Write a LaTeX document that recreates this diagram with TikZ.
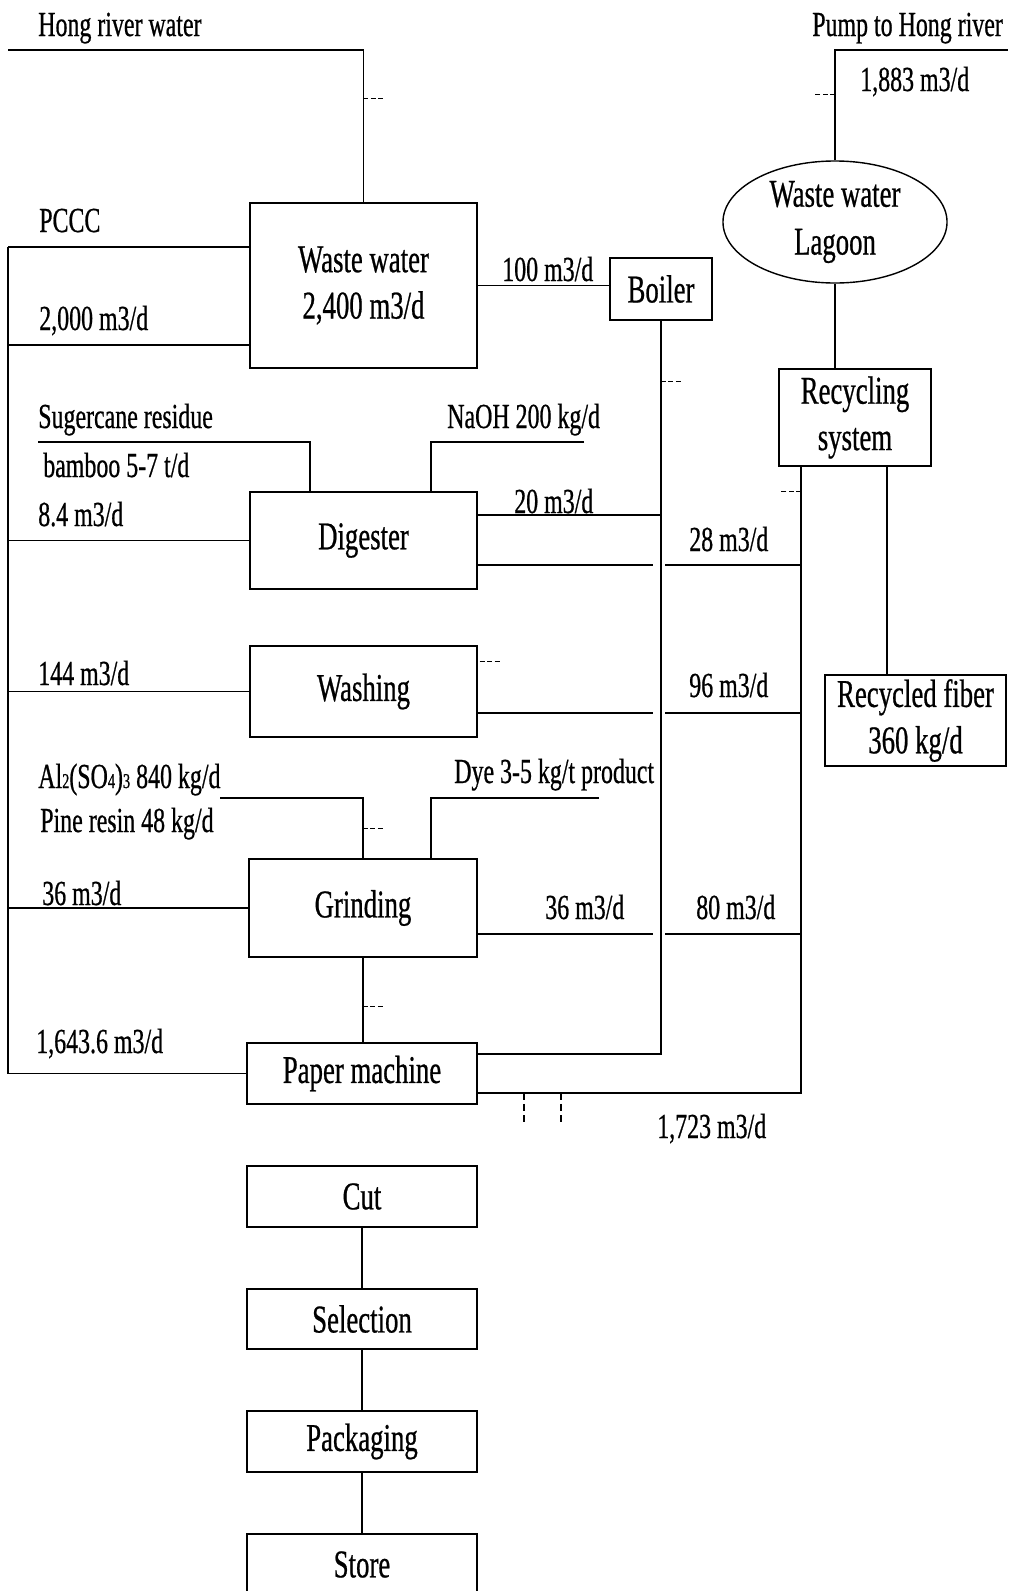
\documentclass[tikz,border=0pt]{standalone}
\usepackage{fontspec}
\setmainfont{Liberation Serif}[FakeStretch=0.68, FakeBold=0.6]
\usepackage{tikz}
\usetikzlibrary{shapes.geometric, calc}
\newcommand{\chemsub}[1]{{\fontsize{15}{15}\selectfont #1}}
\tikzset{
  procbox/.style={rectangle, draw, line width=1pt, inner sep=0pt,
    minimum width=5.675cm, align=center, font=\fontsize{28}{33}\selectfont},
  smallbox/.style={procbox, minimum width=2.55cm, minimum height=1.55cm},
  pondshape/.style={ellipse, draw, line width=1pt, inner sep=0pt,
    minimum width=5.6cm, minimum height=3.05cm, align=center,
    font=\fontsize{28}{34}\selectfont},
  lbl/.style={anchor=base west, inner sep=0pt, font=\fontsize{25}{29}\selectfont},
  pipe/.style={line width=1.4pt},
  tick/.style={line width=1pt, dash pattern=on 3.5pt off 1.8pt},
  dashline/.style={line width=1.1pt, dash pattern=on 5pt off 3pt}
}

\begin{document}
\begin{tikzpicture}[x=0.025cm, y=-0.025cm]
  \useasboundingbox (0,0) rectangle (1008,1591);

  % process boxes
  \node[procbox, minimum height=4.125cm] (ww) at (363.5,285.5) {Waste water\\2,400 m3/d};
  \node[smallbox] (boiler) at (661,289) {Boiler};
  \node[pondshape] (lagoon) at (835,222) {Waste water\\Lagoon};
  \node[procbox, minimum width=3.8cm, minimum height=2.425cm] (recyc) at (855,417.5) {Recycling\\system};
  \node[procbox, minimum height=2.425cm] (dig) at (363.5,540.5) {Digester};
  \node[procbox, minimum height=2.275cm] (wash) at (363.5,691.5) {Washing};
  \node[procbox, minimum width=4.525cm, minimum height=2.275cm] (recfib) at (915.5,720.5) {Recycled fiber\\360 kg/d};
  \node[procbox, minimum width=5.7cm, minimum height=2.45cm] (grind) at (363,908) {Grinding};
  \node[procbox, minimum width=5.75cm, minimum height=1.525cm] (paper) at (362,1073.5) {Paper machine};
  \node[procbox, minimum width=5.75cm, minimum height=1.525cm] (cut) at (362,1196.5) {Cut};
  \node[procbox, minimum width=5.75cm, minimum height=1.5cm] (sel) at (362,1319) {Selection};
  \node[procbox, minimum width=5.75cm, minimum height=1.525cm] (pack) at (362,1441.5) {Packaging};
  \node[procbox, minimum width=5.75cm, minimum height=1.525cm] (store) at (362,1564.5) {Store};

  % free ends and branch points
  \coordinate (hr) at (8,50);
  \coordinate (pump) at (1008,50);
  \coordinate (pccc) at (8,247);
  \coordinate (sug) at (38,442);
  \coordinate (naoh) at (584,442);
  \coordinate (alum) at (220,798);
  \coordinate (dye) at (599,798);
  \coordinate (wwin) at ($(ww.south west)+(0,-24)$);
  \coordinate (dg1) at ($(dig.north east)+(0,24)$);
  \coordinate (dg2) at ($(dig.south east)+(0,-25)$);
  \coordinate (ws) at ($(wash.south east)+(0,-25)$);
  \coordinate (gr) at ($(grind.south east)+(0,-24)$);
  \coordinate (rcl) at ($(recyc.south west)+(23,0)$);
  \coordinate (rcr) at ($(recyc.south east)+(-45,0)$);
  \coordinate (pmtop) at ($(paper.north east)+(0,12)$);
  \coordinate (pmbot) at ($(paper.south east)+(0,-12)$);

  % water supply
  \draw[pipe] (hr) -| (ww.north);
  \draw[pipe] (pccc) -- (pccc -| ww.west);
  \draw[pipe] (wwin) -- (wwin -| pccc);
  \draw[pipe] (pccc) |- (paper.west);
  \draw[pipe] (dig.west) -- (dig.west -| pccc);
  \draw[pipe] (wash.west) -- (wash.west -| pccc);
  \draw[pipe] (grind.west) -- (grind.west -| pccc);
  \draw[pipe] (ww.east) -- (ww.east -| boiler.west);

  % chemicals and raw material
  \draw[pipe] (sug) -| ($(dig.north west)+(61,0)$);
  \draw[pipe] (naoh) -| ($(dig.north west)+(182,0)$);
  \draw[pipe] (alum) -| (grind.north);
  \draw[pipe] (dye) -| ($(grind.north west)+(183,0)$);
  \draw[pipe] (grind.south) -- (grind.south |- paper.north);

  % waste water
  \draw[pipe] (boiler.south) |- (pmtop);
  \draw[pipe] (dg1) -- (dg1 -| boiler.south);
  \draw[pipe] (dg2) -- ++(175,0);
  \draw[pipe] (dg2 -| rcl) -- ++(-136,0);
  \draw[pipe] (ws) -- ++(175,0);
  \draw[pipe] (ws -| rcl) -- ++(-136,0);
  \draw[pipe] (gr) -- ++(175,0);
  \draw[pipe] (gr -| rcl) -- ++(-136,0);
  \draw[pipe] (rcl) |- (pmbot);
  \draw[pipe] (rcr) -- (rcr |- recfib.north);
  \draw[pipe] (lagoon.south) -- (lagoon.south |- recyc.north);
  \draw[pipe] (lagoon.north) |- (pump);

  % finishing line
  \draw[pipe] (cut) -- (sel) -- (pack) -- (store);

  % short marks
  \draw[tick] ($(ww.north)+(0,-104)$) -- ++(21,0);
  \draw[tick] ($(boiler.south)+(0,61)$) -- ++(21,0);
  \draw[tick] ($(lagoon.north)+(0,-66)$) -- ++(-22,0);
  \draw[tick] ($(rcl)+(0,25)$) -- ++(-22,0);
  \draw[tick] ($(wash.north east)+(2,16)$) -- ++(21,0);
  \draw[tick] ($(grind.north)+(0,-30)$) -- ++(21,0);
  \draw[tick] ($(grind.south)+(0,49)$) -- ++(21,0);
  \draw[dashline] ($(pmbot)+(46,0)$) -- ++(0,33);
  \draw[dashline] ($(pmbot)+(83,0)$) -- ++(0,33);

  % labels
  \node[lbl] (l1) at (38,36) {Hong river water};
  \node[lbl] (l2) at (812,36) {Pump to Hong river};
  \node[lbl] (l3) at (860,91) {1,883 m3/d};
  \node[lbl] (l4) at (39,232) {PCCC};
  \node[lbl] (l5) at (39,330) {2,000 m3/d};
  \node[lbl] (l6) at (502,281) {100 m3/d};
  \node[lbl] (l7) at (38,428) {Sugercane residue};
  \node[lbl] (l8) at (43,477) {bamboo 5-7 t/d};
  \node[lbl] (l9) at (38,526) {8.4 m3/d};
  \node[lbl] (l10) at (447,428) {NaOH 200 kg/d};
  \node[lbl] (l11) at (514,513) {20 m3/d};
  \node[lbl] (l12) at (689,551) {28 m3/d};
  \node[lbl] (l13) at (38,685) {144 m3/d};
  \node[lbl] (l14) at (689,697) {96 m3/d};
  \node[lbl] (l15) at (38,788) {Al\chemsub{2}(SO\chemsub{4})\chemsub{3} 840 kg/d};
  \node[lbl] (l16) at (40,832) {Pine resin 48 kg/d};
  \node[lbl] (l17) at (454,783) {Dye 3-5 kg/t product};
  \node[lbl] (l18) at (42,905) {36 m3/d};
  \node[lbl] (l19) at (545,919) {36 m3/d};
  \node[lbl] (l20) at (696,919) {80 m3/d};
  \node[lbl] (l21) at (36,1053) {1,643.6 m3/d};
  \node[lbl] (l22) at (657,1138) {1,723 m3/d};

\end{tikzpicture}
\end{document}
